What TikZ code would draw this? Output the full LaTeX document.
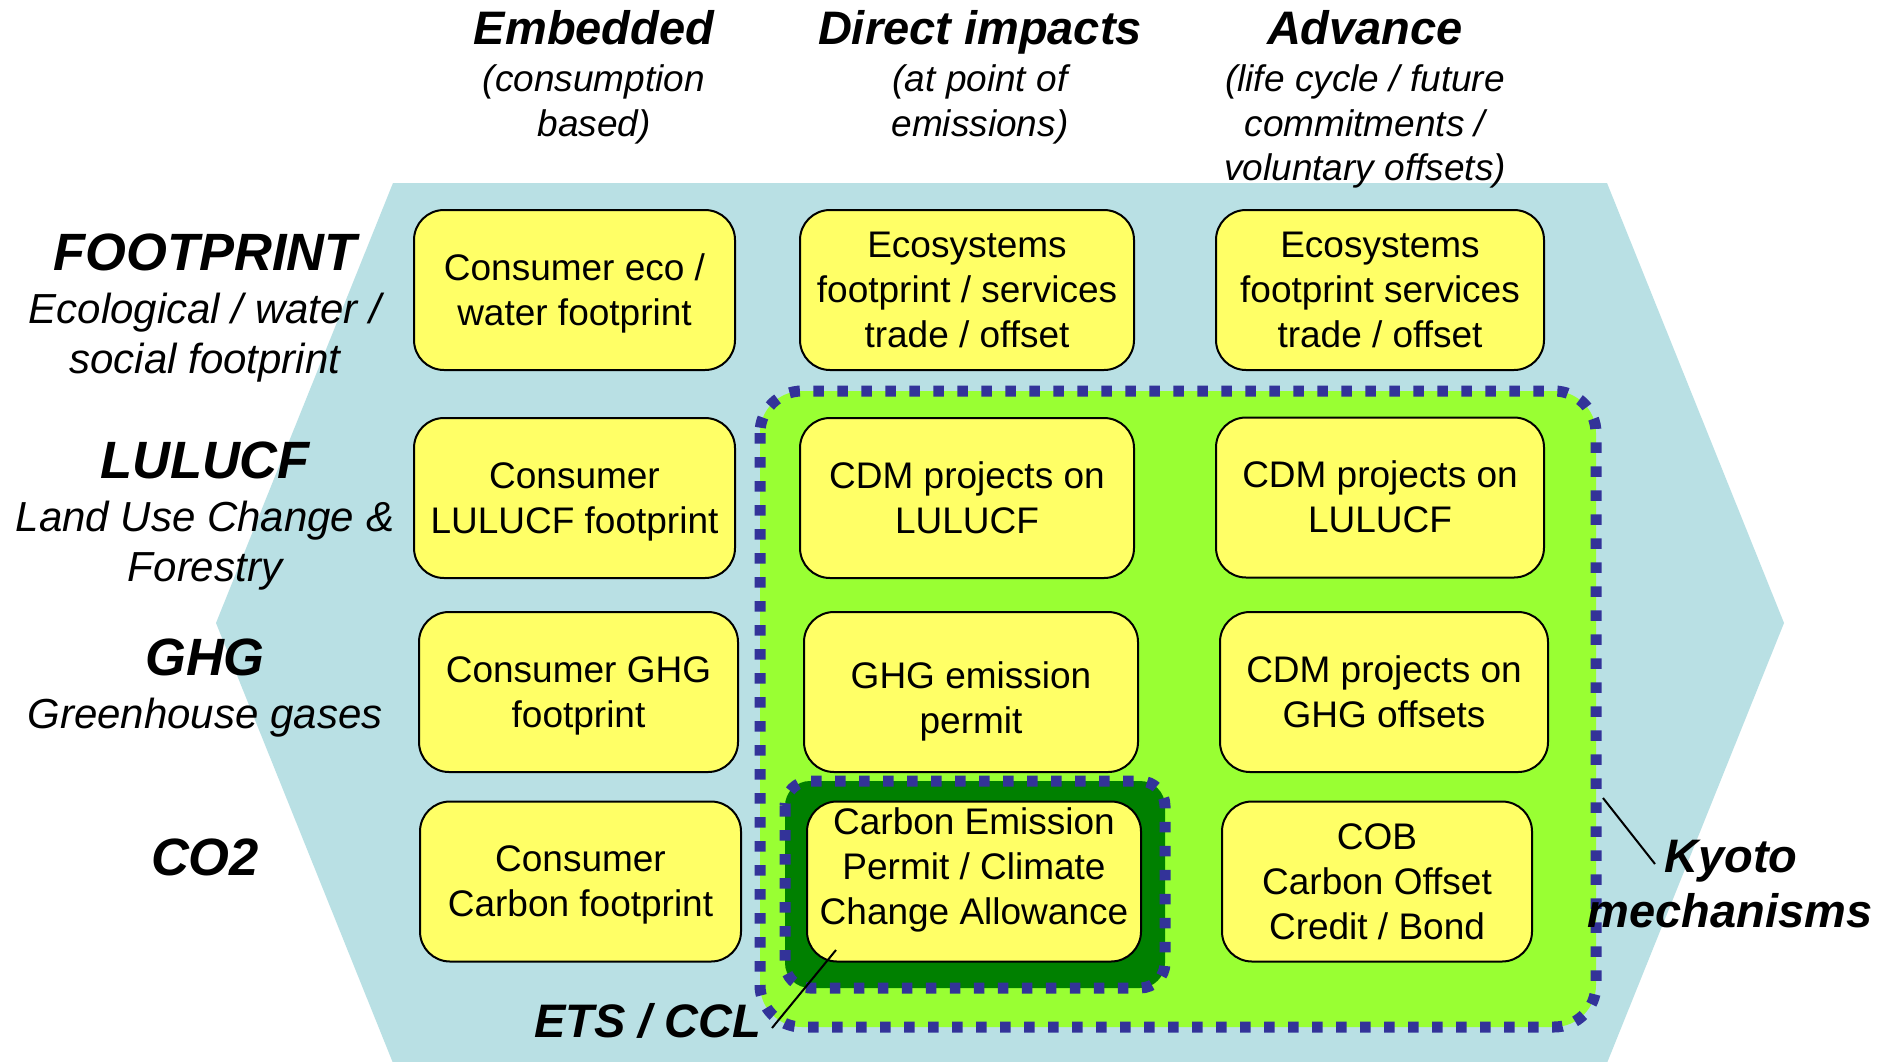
\documentclass[tikz,border=0pt]{standalone}
\usepackage{fontspec}
\setmainfont{Liberation Sans}
\definecolor{hexblue}{RGB}{185,224,228}
\definecolor{kyogreen}{RGB}{153,255,51}
\definecolor{etsgreen}{RGB}{0,128,0}
\definecolor{dashblue}{RGB}{51,51,153}
\definecolor{cellyellow}{RGB}{255,255,102}
\newcommand{\ls}{\rule[-10pt]{0pt}{45pt}}
\begin{document}
\begin{tikzpicture}[x=1pt,y=-1pt,
  cell/.style={draw=black, line width=2pt, fill=cellyellow, rounded corners=30pt, minimum height=160pt, inner sep=0pt, align=center, font=\fontsize{37}{45}\selectfont},
  celltext/.style={inner sep=0pt, align=center, font=\fontsize{37}{45}\selectfont},
  colhead/.style={anchor=base, inner sep=0pt, font=\fontsize{47}{56}\selectfont\bfseries\itshape},
  colsub/.style={anchor=base, inner sep=0pt, font=\fontsize{37}{45}\selectfont\itshape},
  rowhead/.style={anchor=base, inner sep=0pt, font=\fontsize{52.5}{62}\selectfont\bfseries\itshape},
  rowsub/.style={anchor=base, inner sep=0pt, font=\fontsize{42}{50}\selectfont\itshape},
  callout/.style={anchor=base, inner sep=0pt, font=\fontsize{47}{56}\selectfont\bfseries\itshape},
  region/.style={line width=11pt, draw=dashblue, dash pattern=on 10.5pt off 13.5pt},
  leader/.style={draw=black, line width=2pt}]
\fill[white] (0,0) rectangle (1882,1061);
\useasboundingbox (0,0) rectangle (1882,1061);
% hexagon background
\fill[hexblue] (393,183) -- (1607,183) -- (1784,623) -- (1607,1063) -- (393,1063) -- (216,623) -- cycle;
% Kyoto region
\draw[region, fill=kyogreen, rounded corners=42pt] (760,391) rectangle (1596,1027);
% ETS region
\draw[region, fill=etsgreen, rounded corners=25pt] (785,781) rectangle (1165,988);
% cells column 1
\node[cell, minimum width=321pt] (c11) at (574.5,290) {\ls Consumer eco /\\\ls water footprint};
\node[cell, minimum width=321pt] (c12) at (574.5,498) {\ls Consumer\\\ls LULUCF footprint};
\node[cell, minimum width=319pt] (c13) at (578.5,692) {\ls Consumer GHG\\\ls footprint};
\node[cell, minimum width=321pt] (c14) at (580.5,881.5) {\ls Consumer\\\ls Carbon footprint};
% cells column 2
\node[cell, minimum width=334pt] (c21) at (967,290) {\ls Ecosystems\\\ls footprint / services\\\ls trade / offset};
\node[cell, minimum width=334pt] (c22) at (967,498) {\ls CDM projects on\\\ls LULUCF};
\node[cell, minimum width=334pt] (c23) at (971,692) {\rule[-10pt]{0pt}{58pt}GHG emission\\\ls permit};
\node[cell, minimum width=334pt] (c24) at (974,881.5) {};
\node[celltext] (c24t) at (974,866.5) {\ls Carbon Emission\\\ls Permit / Climate\\\ls Change Allowance};
% cells column 3
\node[cell, minimum width=328pt] (c31) at (1380,290) {\ls Ecosystems\\\ls footprint services\\\ls trade / offset};
\node[cell, minimum width=328pt] (c32) at (1380,497.5) {\ls CDM projects on\\\ls LULUCF};
\node[cell, minimum width=328pt] (c33) at (1384,692) {\ls CDM projects on\\\ls GHG offsets};
\node[cell, minimum width=310pt] (c34) at (1377,881.5) {\ls COB\\\ls Carbon Offset\\\ls Credit / Bond};
% column headers
\node[colhead] (h1) at (594,44) {Embedded};
\node[colsub] (h1a) at (594,91.5) {(consumption};
\node[colsub] (h1b) at (594,136) {based)};
\node[colhead] (h2) at (980,44) {Direct impacts};
\node[colsub] (h2a) at (980,91.5) {(at point of};
\node[colsub] (h2b) at (980,136) {emissions)};
\node[colhead] (h3) at (1365,44) {Advance};
\node[colsub] (h3a) at (1365,91.5) {(life cycle / future};
\node[colsub] (h3b) at (1365,136) {commitments /};
\node[colsub] (h3c) at (1365,180.5) {voluntary offsets)};
% row labels
\node[rowhead] (fp) at (205,270) {FOOTPRINT};
\node[rowsub] (fp1) at (205,323) {Ecological / water /};
\node[rowsub] (fp2) at (205,373) {social footprint};
\node[rowhead] (lu) at (205,478) {LULUCF};
\node[rowsub] (lu1) at (205,531) {Land Use Change \&};
\node[rowsub] (lu2) at (205,581) {Forestry};
\node[rowhead] (gh) at (205,675) {GHG};
\node[rowsub] (gh1) at (205,728) {Greenhouse gases};
\node[rowhead] (co) at (205,875) {CO2};
% callouts
\coordinate (kyA) at (1603,798);
\coordinate (kyB) at (1655,864);
\draw[leader] (kyA) -- (kyB);
\coordinate (etsA) at (836,950);
\coordinate (etsB) at (772,1028);
\draw[leader] (etsA) -- (etsB);
\node[callout] (ky1) at (1731,872) {Kyoto};
\node[callout] (ky2) at (1730,927) {mechanisms};
\node[callout] (ets) at (648,1037) {ETS / CCL};
\end{tikzpicture}
\end{document}
